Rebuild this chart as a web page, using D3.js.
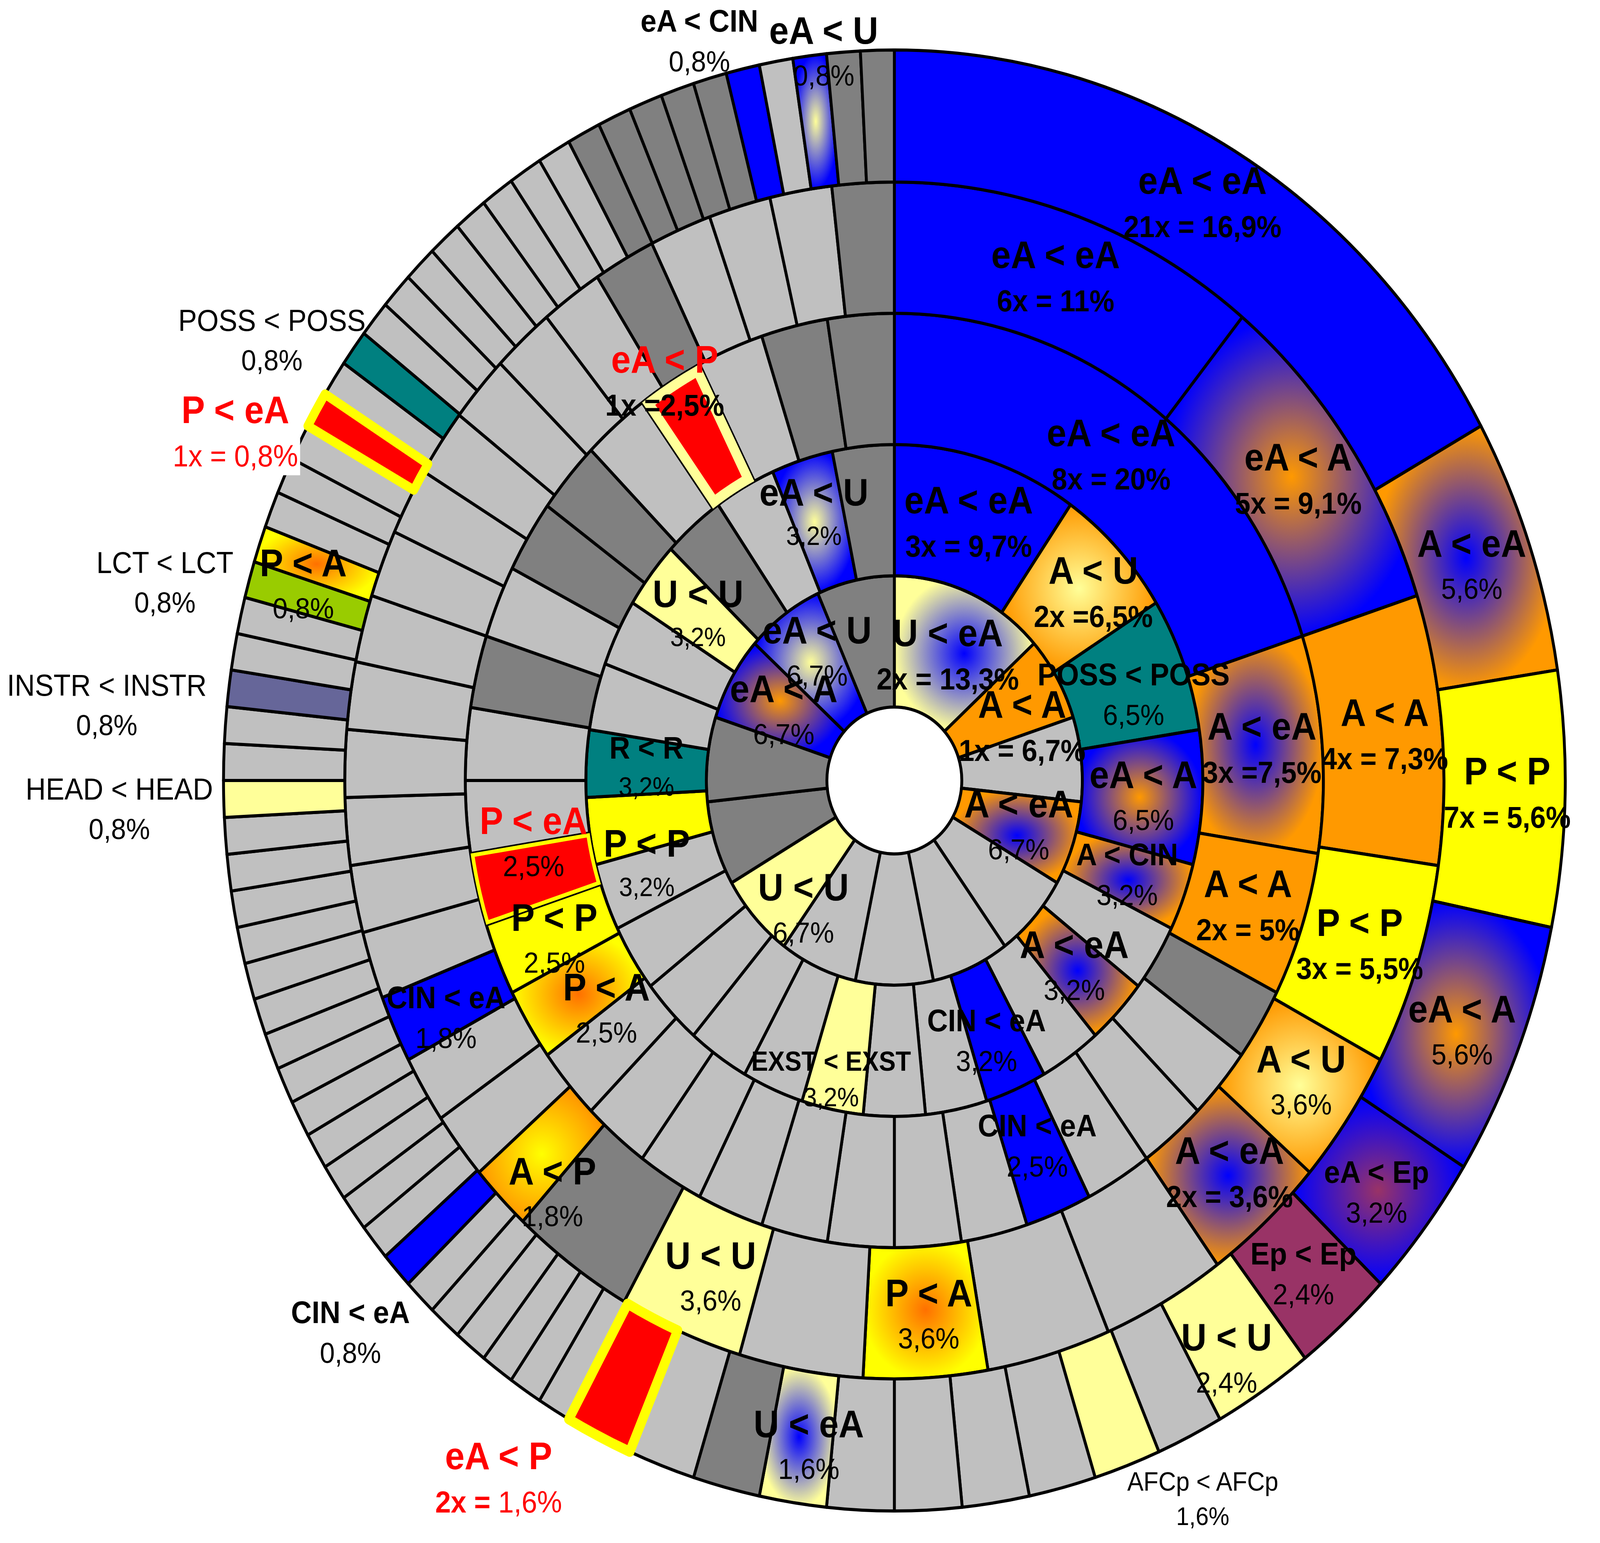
<!DOCTYPE html>
<html>
<head>
<meta charset="utf-8">
<script src="https://cdn.jsdelivr.net/npm/d3@7"></script>
<style>
html, body { margin: 0; padding: 0; background: #fff; overflow: hidden; }
svg { display: block; width: 100vw; height: 100vh; }
text { font-family: "Liberation Sans", Arial, Helvetica, sans-serif; }
</style>
</head>
<body>
<svg id="chart"></svg>
<script>
// rings from the inside out: category, number of cases, printed percentage
// "other" / "other*" are the unlabelled (grey) relations
var ring1Cats = ["U < eA","A < A","other","A < eA","other","other","other","other","U < U","other*","other*","eA < A","eA < U","other*"];
var ring1Counts = [2,1,1,1,1,1,1,1,1,1,1,1,1,1];
var ring1Pct = ["2x = 13,3%","1x = 6,7%","","6,7%","","","","","6,7%","","","6,7%","6,7%",""];

var ring2Cats = ["eA < eA","A < U","POSS < POSS","eA < A","A < CIN","other","A < eA","other","CIN < eA","other","other","EXST < EXST",
  "other","other","other","other","other","P < P","R < R","other","other","U < U","other*","other","eA < U","other*"];
var ring2Counts = [3,2,2,2,1,1,1,1,1,1,1,1,1,1,1,1,1,1,1,1,1,1,1,1,1,1];
var ring2Pct = ["3x = 9,7%","2x =6,5%","6,5%","6,5%","3,2%","","3,2%","","3,2%","","","3,2%",
  "","","","","","3,2%","3,2%","","","3,2%","","","3,2%",""];

var ring3Cats = ["eA < eA","A < eA","A < A","other*","other","other","other","CIN < eA","other","other","other","other","other","other","other","other",
  "P < A","P < P","P < eA","other","other","other*","other","other*","other*","other","eA < P","other","other*","other*"];
var ring3Counts = [8,3,2,1,1,1,1,1,1,1,1,1,1,1,1,1,1,1,1,1,1,1,1,1,1,1,1,1,1,1];
var ring3Pct = ["8x = 20%","3x =7,5%","2x = 5%","","","","","2,5%","","","","","","","","",
  "2,5%","2,5%","2,5%","","","","","","","","1x =2,5%","","",""];

var ring4Cats = ["eA < eA","eA < A","A < A","P < P","A < U","A < eA","other","other","P < A","other","U < U","other*","A < P","other","other","CIN < eA",
  "other","other","other","other","other","other","other","other","other","other","other","other","other*","other","other","other","other*"];
var ring4Counts = [6,5,4,3,2,2,2,2,2,2,2,2,1,1,1,1,1,1,1,1,1,1,1,1,1,1,1,1,1,1,1,1,1];
var ring4Pct = ["6x = 11%","5x = 9,1%","4x = 7,3%","3x = 5,5%","3,6%","2x = 3,6%","","","3,6%","","3,6%","","1,8%","","","1,8%",
  "","","","","","","","","","","","","","","","",""];

var ring5Cats = ["eA < eA","A < eA","P < P","eA < A","eA < Ep","Ep < Ep","U < U","other","AFCp < AFCp","other","other","other","other","U < eA","other*","other","eA < P",
  "other","other","other","other","other","other","CIN < eA",
  "other","other","other","other","other","other","other","other","other","other","other","other","other",
  "HEAD < HEAD","other","other","INSTR < INSTR","other","other","LCT < LCT","P < A","other","other","other","P < eA","other","POSS < POSS",
  "other","other","other","other","other","other","other","other",
  "other*","other*","other*","other*","other*","eA < CIN","other","eA < U","other*","other*"];
var ring5Counts = [21,7,7,7,4,3,3,2,2,2,2,2,2,2,2,2,2,
  1,1,1,1,1,1,1,
  1,1,1,1,1,1,1,1,1,1,1,1,1,
  1,1,1,1,1,1,1,1,1,1,1,1,1,1,
  1,1,1,1,1,1,1,1,
  1,1,1,1,1,1,1,1,1,1];
var ring5Pct = ["21x = 16,9%","5,6%","7x = 5,6%","5,6%","3,2%","2,4%","2,4%","","1,6%","","","","","1,6%","","","2x = 1,6%",
  "","","","","","","0,8%",
  "","","","","","","","","","","","","",
  "0,8%","","","0,8%","","","0,8%","0,8%","","","","1x = 0,8%","","0,8%",
  "","","","","","","","",
  "","","","","","0,8%","","0,8%","",""];

// ---- styles ----
var solidFill = {
  "eA < eA": "#0000FF", "A < A": "#FF9900", "P < P": "#FFFF00", "U < U": "#FFFF99",
  "POSS < POSS": "#008080", "R < R": "#008080", "Ep < Ep": "#993366",
  "CIN < eA": "#0000FF", "eA < CIN": "#0000FF", "P < eA": "#FF0000", "eA < P": "#FF0000",
  "LCT < LCT": "#99CC00", "INSTR < INSTR": "#666699", "HEAD < HEAD": "#FFFF99",
  "EXST < EXST": "#FFFF99", "AFCp < AFCp": "#FFFF99", "other": "#C0C0C0", "other*": "#808080"
};
// [centre colour, edge colour]
var gradFill = {
  "A < eA": ["#0000FF", "#FF9900"], "A < CIN": ["#0000FF", "#FF9900"],
  "eA < A": ["#FF9900", "#0000FF"], "U < eA": ["#0000FF", "#FFFF99"],
  "eA < U": ["#FFFF99", "#0000FF"], "A < U": ["#FFFF99", "#FF9900"],
  "P < A": ["#FF7000", "#FFFF00"], "A < P": ["#FFFF00", "#FF9900"],
  "eA < Ep": ["#993366", "#0000FF"]
};
var redNames = {"P < eA": 1, "eA < P": 1};

var highlight = {
  "3-18": {color: "#FFFF00", width: 10, inner: true},
  "3-26": {color: "#FFFF99", width: 26, inner: true},
  "5-16": {color: "#FFFF00", width: 26},
  "5-48": {color: "#FFFF00", width: 24}
};

var labelStyle = {
  "2-2": {nameSize: 80}, "2-4": {nameSize: 80}, "2-8": {nameSize: 80},
  "2-11": {nameSize: 70, pctSize: 68}, "2-17": {pctSize: 68}, "2-18": {nameSize: 80, pctSize: 68},
  "2-21": {pctSize: 68}, "2-24": {pctSize: 68},
  "3-7": {nameSize: 80}, "4-15": {nameSize: 80},
  "5-4": {nameSize: 80}, "5-5": {nameSize: 80}, "5-23": {nameSize: 80}, "5-64": {nameSize: 80},
  "5-8": {nameSize: 68, nameWeight: "normal", pctSize: 65},
  "5-37": {nameSize: 78, nameWeight: "normal"}, "5-40": {nameSize: 78, nameWeight: "normal"},
  "5-43": {nameSize: 78, nameWeight: "normal"}, "5-50": {nameSize: 78, nameWeight: "normal"},
  "5-48": {pctColor: "#FF0000", pctBg: true},
  "5-16": {pctColor: "#FF0000", pctBoldPart: "2x ="}
};

// label shift from the slice centroid
var labelNudge = {
  "1-0": [4, 5], "1-1": [48, 41], "1-3": [8, 7], "1-8": [11, 92], "1-12": [-6, -40],
  "2-1": [53, -3], "2-2": [18, 20], "2-3": [3, 7], "2-8": [-16, 29], "2-11": [-37, 86], "2-17": [-6, 111], "2-24": [-17, -23],
  "3-2": [8, 4], "3-7": [5, -15], "3-16": [74, 49], "3-17": [2, 14], "3-18": [-6, -80], "3-26": [-103, -144],
  "4-0": [-9, -3], "4-2": [8, 1], "4-4": [8, 0], "4-5": [12, 0], "4-8": [18, 7], "4-10": [19, 16], "4-12": [25, 106], "4-15": [-9, 40],
  "5-0": [-4, -12], "5-2": [8, -9], "5-3": [3, 11], "5-4": [-1, 12], "5-6": [-10, 62], "5-8": [269, 243], "5-13": [19, 22],
  "5-16": [-354, 260], "5-23": [-254, 272], "5-37": [-460, 29], "5-40": [-508, 21], "5-43": [-398, -40], "5-44": [-38, 50],
  "5-48": [-371, -28], "5-50": [-364, -121], "5-64": [-159, -237], "5-66": [18, -176]
};

var svgWidth = 4460, svgHeight = 3950;
var cx = 2493, cy = 1998;
var radii = [188, 524, 860, 1196, 1532, 1870];

var rings = [
  {cats: ring1Cats, counts: ring1Counts, pct: ring1Pct},
  {cats: ring2Cats, counts: ring2Counts, pct: ring2Pct},
  {cats: ring3Cats, counts: ring3Counts, pct: ring3Pct},
  {cats: ring4Cats, counts: ring4Counts, pct: ring4Pct},
  {cats: ring5Cats, counts: ring5Counts, pct: ring5Pct}
];

// the drawing is laid out on a 4460x3950 canvas and stretched to the window
var svg = d3.select("#chart")
  .attr("viewBox", "0 0 " + svgWidth + " " + svgHeight)
  .attr("preserveAspectRatio", "none");

svg.append("rect").attr("width", svgWidth).attr("height", svgHeight).attr("fill", "#fff");

var defs = svg.append("defs");
var gradId = {};
Object.keys(gradFill).forEach(function(k, i) {
  var g = defs.append("radialGradient").attr("id", "grad" + i)
    .attr("cx", 0.5).attr("cy", 0.5).attr("r", 0.5);
  g.append("stop").attr("offset", "0%").attr("stop-color", gradFill[k][0]);
  g.append("stop").attr("offset", "100%").attr("stop-color", gradFill[k][1]);
  gradId[k] = "url(#grad" + i + ")";
});

function fillFor(cat) {
  if (gradId[cat]) return gradId[cat];
  return solidFill[cat] || "#C0C0C0";
}

var g = svg.append("g").attr("transform", "translate(" + cx + "," + cy + ")");
var sliceG = g.append("g");
var hiG = g.append("g");
var labelG = g.append("g");

var pie = d3.pie().sort(null).value(function(d) { return d.count; });

var labelJobs = [];

rings.forEach(function(ring, r) {
  var data = ring.cats.map(function(c, i) { return {cat: c, count: ring.counts[i], pct: ring.pct[i], idx: i}; });
  var arc = d3.arc().innerRadius(radii[r]).outerRadius(radii[r + 1]);
  var arcs = pie(data);

  sliceG.selectAll(".s" + r)
    .data(arcs)
    .enter().append("path")
    .attr("class", "s" + r)
    .attr("d", arc)
    .attr("fill", function(d) { return fillFor(d.data.cat); })
    .attr("stroke", "#000")
    .attr("stroke-width", 8)
    .attr("stroke-linejoin", "round");

  arcs.forEach(function(d) {
    var key = (r + 1) + "-" + d.data.idx;
    var h = highlight[key];
    if (h) {
      var p = arc(d);
      if (h.inner) {
        defs.append("clipPath").attr("id", "clip" + key).append("path").attr("d", p);
        hiG.append("path").attr("d", p).attr("fill", "none")
          .attr("stroke", h.color).attr("stroke-width", h.width * 2)
          .attr("stroke-linejoin", "round")
          .attr("clip-path", "url(#clip" + key + ")");
      } else {
        hiG.append("path").attr("d", p).attr("fill", "#FF0000")
          .attr("stroke", h.color).attr("stroke-width", h.width)
          .attr("stroke-linejoin", "round");
      }
    }
    if (d.data.cat.indexOf("other") === 0) return;
    var c = arc.centroid(d);
    var n = labelNudge[key] || [0, 0];
    labelJobs.push({key: key, x: c[0] + n[0], y: c[1] + n[1], name: d.data.cat, pct: d.data.pct});
  });
});

labelJobs.forEach(function(L) {
  var st = labelStyle[L.key] || {};
  var pctBold = L.pct.indexOf("x") >= 0;
  var nameSize = st.nameSize || 98;
  var pctSize = st.pctSize || (pctBold ? 78 : 75);
  var gap = (nameSize + pctSize) * 0.67;
  var nameColor = redNames[L.name] ? "#FF0000" : "#000";

  labelG.append("text")
    .attr("x", L.x)
    .attr("y", L.y - gap / 2 + 0.358 * nameSize)
    .attr("text-anchor", "middle")
    .attr("font-size", nameSize)
    .attr("font-weight", st.nameWeight || "bold")
    .attr("fill", nameColor)
    .text(L.name);

  if (!L.pct) return;
  var t = labelG.append("text")
    .attr("x", L.x)
    .attr("y", L.y + gap / 2 + 0.358 * pctSize)
    .attr("text-anchor", "middle")
    .attr("font-size", pctSize)
    .attr("font-weight", pctBold ? "bold" : "normal")
    .attr("fill", st.pctColor || "#000");
  if (st.pctBoldPart) {
    t.attr("font-weight", "normal");
    t.append("tspan").attr("font-weight", "bold").text(st.pctBoldPart);
    t.append("tspan").text(L.pct.slice(st.pctBoldPart.length));
  } else {
    t.text(L.pct);
  }
  if (st.pctBg) {
    t.attr("font-weight", "normal");
    var bb = t.node().getBBox();
    labelG.insert("rect", function() { return t.node(); })
      .attr("x", bb.x - 6).attr("y", bb.y - 4)
      .attr("width", bb.width + 12).attr("height", bb.height + 10)
      .attr("fill", "#fff");
  }
});
</script>
</body>
</html>
